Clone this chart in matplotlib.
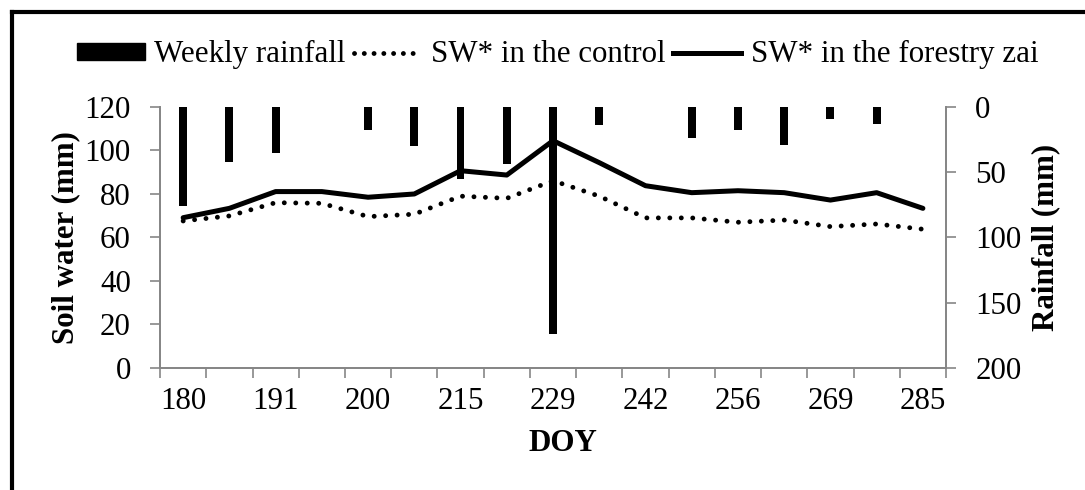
import numpy as np
import matplotlib
matplotlib.use("Agg")
import matplotlib.pyplot as plt
from matplotlib.lines import Line2D
from matplotlib.patches import Patch

plt.rcParams['font.family'] = ['Liberation Serif', 'DejaVu Serif']

doy = [180, 186, 191, 195, 200, 208, 215, 222, 229, 236, 242, 249, 256, 263, 269, 277, 285]
rain = [76, 42, 35, 0, 18, 30, 55, 44, 174, 14, 0, 24, 18, 29, 9, 13, 0]
sw_control = [67.6, 69.9, 76.0, 75.7, 69.6, 70.7, 79.0, 78.0, 86.1, 79.0, 69.0, 69.0, 67.0, 68.0, 65.0, 66.2, 63.8]
sw_zai = [69.1, 73.4, 81.1, 81.1, 78.5, 80.0, 90.7, 88.7, 104.5, 94.4, 83.8, 80.6, 81.5, 80.6, 77.2, 80.6, 73.4]

FS = 22.3
GREY = '#868686'
DOTS = (0, (0.01, 2.35))
x = np.arange(len(doy))

fig = plt.figure(figsize=(10.85, 4.9), dpi=100)
ax = fig.add_axes([0.1475, 0.249, 0.7244, 0.5327])

ax.plot(x, sw_control, color='black', lw=3.5, linestyle=DOTS,
        dash_capstyle='round', label='SW* in the control')
ax.plot(x, sw_zai, color='black', lw=3.6, solid_capstyle='round',
        label='SW* in the forestry zai')

ax.set_xlim(-0.5, len(doy) - 0.5)
ax.set_ylim(0, 120)
ax.set_yticks(range(0, 121, 20))

# ticks at category boundaries, labels on every other category
ax.set_xticks(np.arange(-0.5, len(doy), 1.0))
ax.set_xticklabels([])
ax.set_xticks(x[::2], minor=True)
ax.set_xticklabels([str(d) for d in doy[::2]], minor=True)
ax.tick_params(axis='x', which='major', direction='out', length=7, width=1.2, color=GREY)
ax.tick_params(axis='x', which='minor', length=0, pad=14, labelsize=FS)
ax.tick_params(axis='y', direction='out', length=7, width=1.2, color=GREY, pad=14, labelsize=FS)

ax.spines['top'].set_visible(False)
for s in ['left', 'bottom', 'right']:
    ax.spines[s].set_color(GREY)
    ax.spines[s].set_linewidth(1.3)

ax.set_ylabel('Soil water (mm)', fontsize=FS, fontweight='bold')
ax.yaxis.set_label_coords(-0.102, 0.5)
ax.set_xlabel('DOY', fontsize=FS, fontweight='bold')
ax.xaxis.set_label_coords(0.513, -0.235)

# rainfall on an inverted secondary axis
ax2 = ax.twinx()
ax2.bar(x, rain, width=0.17, color='black', label='Weekly rainfall')
ax2.set_ylim(200, 0)
ax2.set_yticks(range(0, 201, 50))
ax2.tick_params(axis='y', direction='out', length=7, width=1.2, color=GREY, pad=14, labelsize=FS)
ax2.spines['top'].set_visible(False)
for s in ['left', 'bottom', 'right']:
    ax2.spines[s].set_color(GREY)
    ax2.spines[s].set_linewidth(1.3)
ax2.set_ylabel('Rainfall (mm)', fontsize=FS, fontweight='bold')
ax2.yaxis.set_label_coords(1.108, 0.5)

handles = [Patch(color='black'),
           Line2D([], [], color='black', lw=3.5, linestyle=(0, (0.01, 2.0)), dash_capstyle='round'),
           Line2D([], [], color='black', lw=3.6)]
labels = ['Weekly rainfall', 'SW* in the control', 'SW* in the forestry zai']
fig.legend(handles, labels, loc='center', bbox_to_anchor=(0.514, 0.888), ncol=3,
           frameon=False, fontsize=FS, handlelength=2.2, handleheight=0.45,
           handletextpad=0.3, columnspacing=0.25, borderpad=0)

# outer frame (left and top edges)
fx = 12 / 1085
fy = 1 - 12 / 490
fig.add_artist(Line2D([fx, fx], [0, fy], transform=fig.transFigure, color='black', lw=3))
fig.add_artist(Line2D([fx, 1], [fy, fy], transform=fig.transFigure, color='black', lw=3))

fig.savefig('out.png', dpi=100)
